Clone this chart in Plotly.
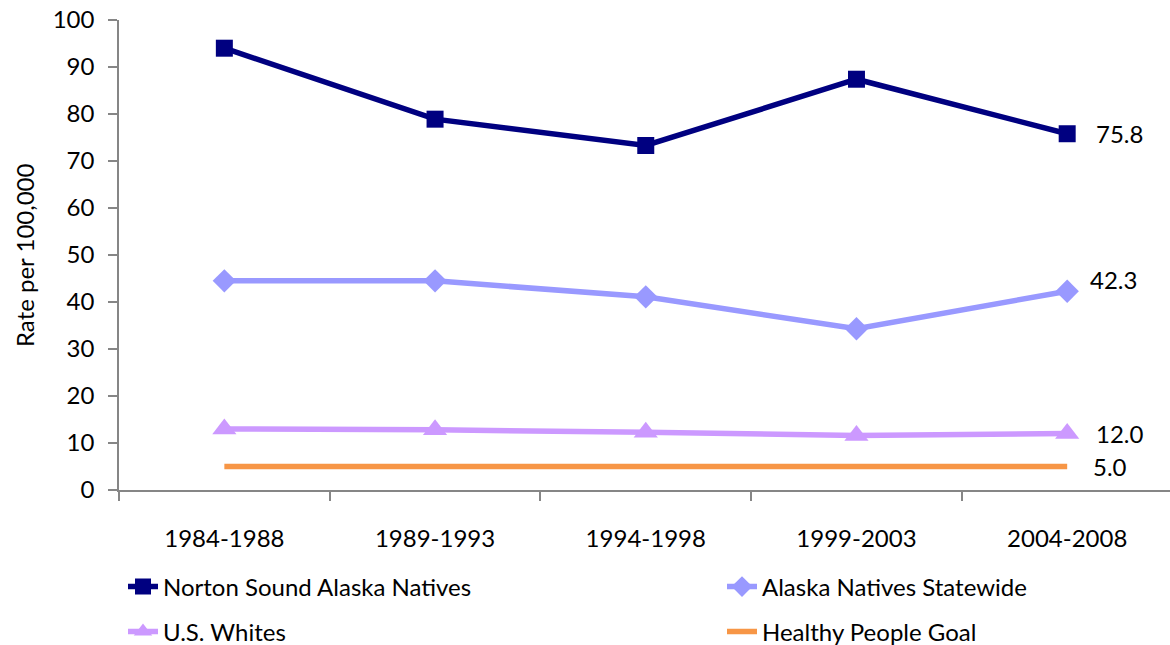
import plotly.graph_objects as go

periods = ["1984-1988", "1989-1993", "1994-1998", "1999-2003", "2004-2008"]
norton = [94.0, 78.9, 73.3, 87.4, 75.8]
statewide = [44.5, 44.5, 41.1, 34.3, 42.3]
us_whites = [13.0, 12.8, 12.3, 11.6, 12.0]
hp_goal = [5.0, 5.0, 5.0, 5.0, 5.0]

FONT = "Lato, 'Open Sans', sans-serif"
FS = 24

fig = go.Figure()
fig.add_trace(go.Scatter(x=periods, y=norton, name="Norton Sound Alaska Natives",
                         mode="lines+markers", line=dict(color="#000080", width=5.5),
                         marker=dict(symbol="square", size=17, color="#000080"),
                         legend="legend"))
fig.add_trace(go.Scatter(x=periods, y=statewide, name="Alaska Natives Statewide",
                         mode="lines+markers", line=dict(color="#9999FF", width=5.5),
                         marker=dict(symbol="diamond", size=18, color="#9999FF"),
                         legend="legend2"))
fig.add_trace(go.Scatter(x=periods, y=us_whites, name="U.S. Whites",
                         mode="lines+markers", line=dict(color="#CC99FF", width=5.5),
                         marker=dict(symbol="triangle-up", size=21, color="#CC99FF"),
                         legend="legend3"))
fig.add_trace(go.Scatter(x=periods, y=hp_goal, name="Healthy People Goal",
                         mode="lines", line=dict(color="#F79646", width=5.5),
                         legend="legend4"))

# end-of-line data labels
labels = [(norton, 0, 27), (statewide, 12, 21), (us_whites, 0, 27), (hp_goal, 0, 24)]
for series, ys, xs in labels:
    fig.add_annotation(x=periods[-1], y=series[-1], text=f"{series[-1]:.1f}",
                       showarrow=False, xanchor="left", yanchor="middle",
                       xshift=xs, yshift=ys, font=dict(family=FONT, size=FS, color="black"))

# y-axis title
fig.add_annotation(x=(24 - 119) / 1051, y=0.5, xref="paper", yref="paper",
                   text="Rate per 100,000", textangle=-90, showarrow=False,
                   xanchor="center", yanchor="middle",
                   font=dict(family=FONT, size=24, color="black"))

leg_common = dict(orientation="v", xref="container", yref="container",
                  xanchor="left", yanchor="middle",
                  font=dict(family=FONT, size=FS, color="black"), bgcolor="rgba(0,0,0,0)")

fig.update_layout(
    width=1170, height=645,
    margin=dict(l=119, r=0, t=20, b=155, autoexpand=False),
    paper_bgcolor="white", plot_bgcolor="white",
    font=dict(family=FONT, size=FS, color="black"),
    showlegend=True,
    legend=dict(x=123 / 1170, y=1 - 587 / 645, **leg_common),
    legend2=dict(x=722 / 1170, y=1 - 587 / 645, **leg_common),
    legend3=dict(x=123 / 1170, y=1 - 632 / 645, **leg_common),
    legend4=dict(x=722 / 1170, y=1 - 632 / 645, **leg_common),
    xaxis=dict(type="category", range=[-0.5, 4.488], showline=True, linecolor="#868686",
               linewidth=1.5, ticks="outside", tickson="boundaries", ticklen=9,
               tickcolor="#868686", tickwidth=1.5, showgrid=False, zeroline=False,
               automargin=False,
               tickfont=dict(family=FONT, size=FS, color="black"), ticklabelstandoff=26),
    yaxis=dict(range=[0, 100], dtick=10, showline=True, linecolor="#868686", linewidth=1.5,
               ticks="outside", ticklen=9, tickcolor="#868686", tickwidth=1.5,
               showgrid=False, zeroline=False, automargin=False, ticklabelstandoff=9,
               tickfont=dict(family=FONT, size=FS, color="black")),
)

fig.write_html("out.html", config={"displayModeBar": False},
               post_script="document.body.style.margin='0';document.body.style.padding='0';"
                           "document.documentElement.style.overflow='hidden';")
